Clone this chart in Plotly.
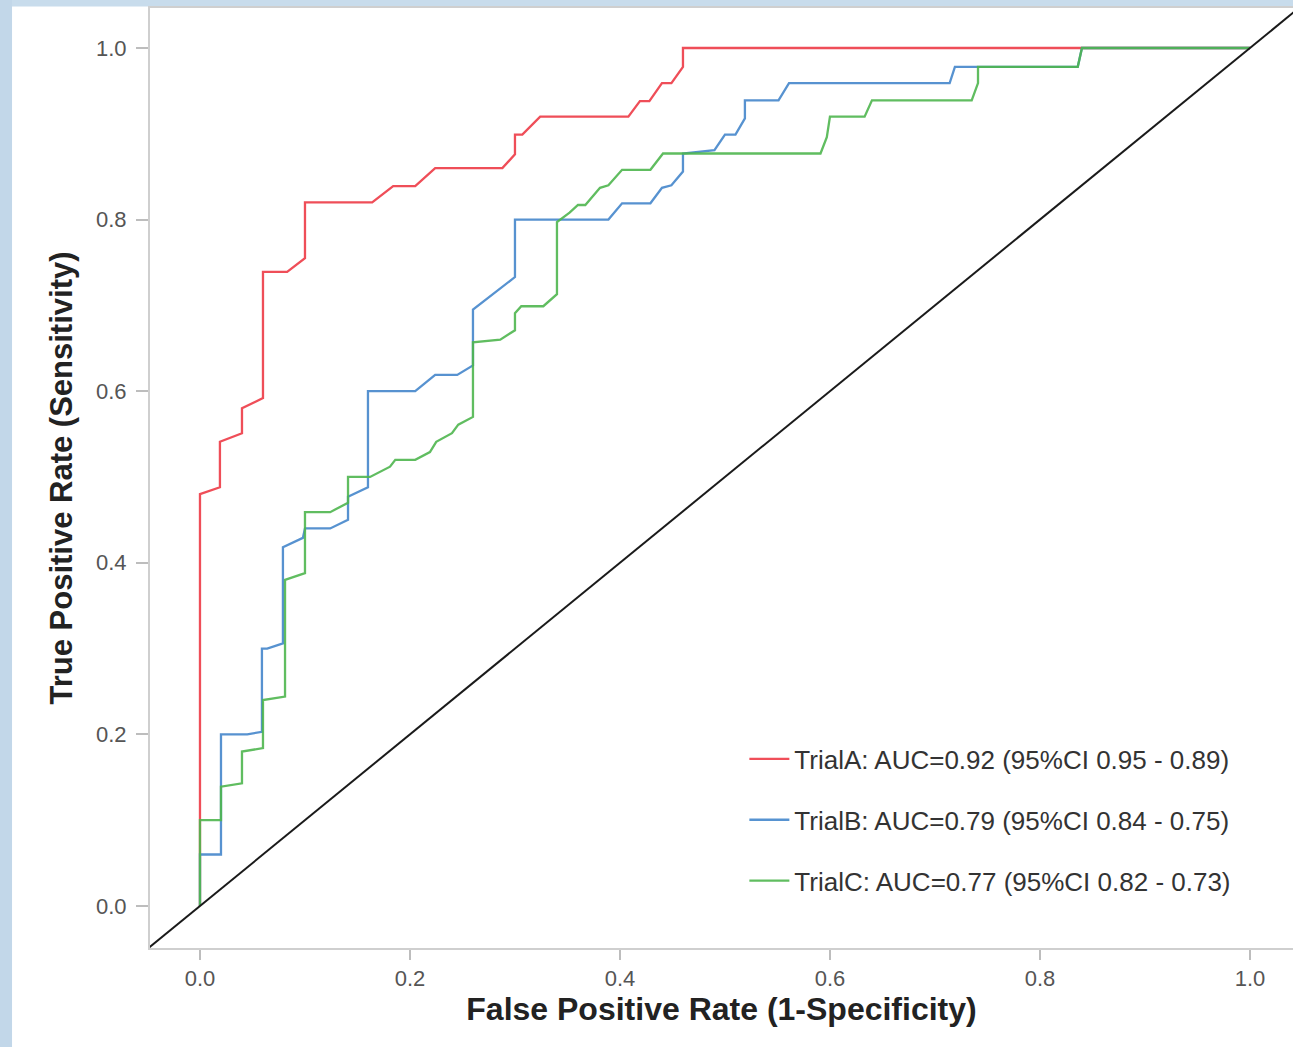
import plotly.graph_objects as go

# ---- data ----
trialA_fpr = [0, 0, 0.019, 0.019, 0.04, 0.04, 0.06, 0.06, 0.083, 0.1, 0.1, 0.164, 0.184, 0.205, 0.224,
              0.288, 0.30, 0.30, 0.307, 0.324, 0.408, 0.419, 0.428, 0.44, 0.449, 0.46, 0.46, 1.0]
trialA_tpr = [0, 0.48, 0.488, 0.541, 0.551, 0.58, 0.592, 0.739, 0.739, 0.755, 0.82, 0.82, 0.839, 0.839, 0.86,
              0.86, 0.876, 0.899, 0.899, 0.92, 0.92, 0.938, 0.938, 0.959, 0.959, 0.978, 1.0, 1.0]

trialB_fpr = [0, 0, 0.02, 0.02, 0.045, 0.059, 0.059, 0.064, 0.079, 0.079, 0.098, 0.1, 0.124, 0.141, 0.141,
              0.16, 0.16, 0.205, 0.224, 0.245, 0.26, 0.26, 0.30, 0.30, 0.389, 0.402, 0.429, 0.44, 0.449,
              0.46, 0.46, 0.49, 0.50, 0.51, 0.519, 0.519, 0.551, 0.561, 0.714, 0.719, 0.836, 0.84, 1.0]
trialB_tpr = [0, 0.06, 0.06, 0.2, 0.2, 0.203, 0.30, 0.30, 0.306, 0.418, 0.429, 0.44, 0.44, 0.45, 0.477,
              0.488, 0.6, 0.6, 0.619, 0.619, 0.63, 0.695, 0.733, 0.80, 0.80, 0.819, 0.819, 0.837, 0.84,
              0.856, 0.877, 0.881, 0.899, 0.899, 0.918, 0.939, 0.939, 0.959, 0.959, 0.978, 0.978, 1.0, 1.0]

trialC_fpr = [0, 0, 0.02, 0.02, 0.04, 0.04, 0.06, 0.06, 0.081, 0.081, 0.1, 0.1, 0.124, 0.141, 0.141,
              0.162, 0.181, 0.186, 0.205, 0.219, 0.225, 0.24, 0.246, 0.26, 0.26, 0.286, 0.30, 0.30, 0.306,
              0.327, 0.34, 0.34, 0.352, 0.36, 0.367, 0.381, 0.389, 0.402, 0.429, 0.441, 0.591, 0.597,
              0.60, 0.633, 0.64, 0.735, 0.741, 0.741, 0.836, 0.84, 1.0]
trialC_tpr = [0, 0.1, 0.1, 0.139, 0.143, 0.18, 0.184, 0.24, 0.244, 0.38, 0.388, 0.459, 0.459, 0.47, 0.50,
              0.50, 0.512, 0.52, 0.52, 0.529, 0.541, 0.551, 0.561, 0.57, 0.657, 0.66, 0.671, 0.691, 0.699,
              0.699, 0.713, 0.797, 0.808, 0.817, 0.817, 0.837, 0.84, 0.858, 0.858, 0.877, 0.877, 0.896,
              0.92, 0.92, 0.939, 0.939, 0.959, 0.978, 0.978, 1.0, 1.0]

labels = ["TrialA: AUC=0.92 (95%CI 0.95 - 0.89)",
          "TrialB: AUC=0.79 (95%CI 0.84 - 0.75)",
          "TrialC: AUC=0.77 (95%CI 0.82 - 0.73)"]
colors = ["#EE3B47", "#4587CC", "#4FB64F"]

ref_line = [-0.1, 1.1]
x_ticks = [0.0, 0.2, 0.4, 0.6, 0.8, 1.0]
y_ticks = [0.0, 0.2, 0.4, 0.6, 0.8, 1.0]

FONT = "Liberation Sans, Arial, sans-serif"

fig = go.Figure()
for i, (xs, ys) in enumerate([(trialA_fpr, trialA_tpr), (trialB_fpr, trialB_tpr), (trialC_fpr, trialC_tpr)]):
    fig.add_trace(go.Scatter(x=xs, y=ys, mode="lines", name=labels[i], legendgroup=f"g{i}",
                             line=dict(color=colors[i], width=2.3), opacity=0.9))

fig.add_trace(go.Scatter(x=ref_line, y=ref_line, mode="lines", showlegend=False,
                         line=dict(color="#1a1a1a", width=2)))

fig.update_layout(
    width=1293, height=1047,
    margin=dict(l=150, r=0, t=8, b=99),
    paper_bgcolor="white", plot_bgcolor="white",
    font=dict(family=FONT, color="#333333"),
    showlegend=True,
    legend=dict(x=0.52, y=0.226, xanchor="left", yanchor="top",
                bgcolor="rgba(0,0,0,0)", font=dict(size=26, color="#333333"),
                tracegroupgap=24, itemwidth=40),
    shapes=[
        dict(type="rect", xref="paper", yref="paper", x0=-0.14, x1=1.01, y0=1.0015, y1=1.02,
             fillcolor="#c8dcec", line=dict(width=0), layer="below"),
        dict(type="rect", xref="paper", yref="paper", x0=-0.14, x1=-0.1207, y0=-0.12, y1=1.02,
             fillcolor="#c2d7e9", line=dict(width=0), layer="below"),
    ],
)

fig.update_xaxes(
    range=[-0.0476, 1.041], tickvals=x_ticks, ticktext=[f"{v:.1f}" for v in x_ticks],
    showgrid=False, zeroline=False,
    showline=True, linecolor="#cfcfcf", linewidth=2, mirror=True,
    ticks="outside", ticklen=10, tickwidth=1.5, tickcolor="#bdbdbd",
    tickfont=dict(size=22, color="#555555", family=FONT),
    title=dict(text="<b>False Positive Rate (1-Specificity)</b>",
               font=dict(size=32, color="#222222", family=FONT), standoff=2),
    automargin=False,
)
fig.update_yaxes(
    range=[-0.049, 1.0466], tickvals=y_ticks, ticktext=[f"{v:.1f}" for v in y_ticks],
    showgrid=False, zeroline=False,
    showline=True, linecolor="#cfcfcf", linewidth=2, mirror=True,
    ticks="outside", ticklen=12, tickwidth=1.5, tickcolor="#bdbdbd",
    tickfont=dict(size=22, color="#555555", family=FONT),
    ticklabelstandoff=5,
    title=dict(text="<b>True Positive Rate (Sensitivity)</b>",
               font=dict(size=31, color="#222222", family=FONT), standoff=14),
    automargin=False,
)

fig.write_html("out.html", config={"displayModeBar": False},
               post_script="document.body.style.margin='0';document.body.style.overflow='hidden';")
